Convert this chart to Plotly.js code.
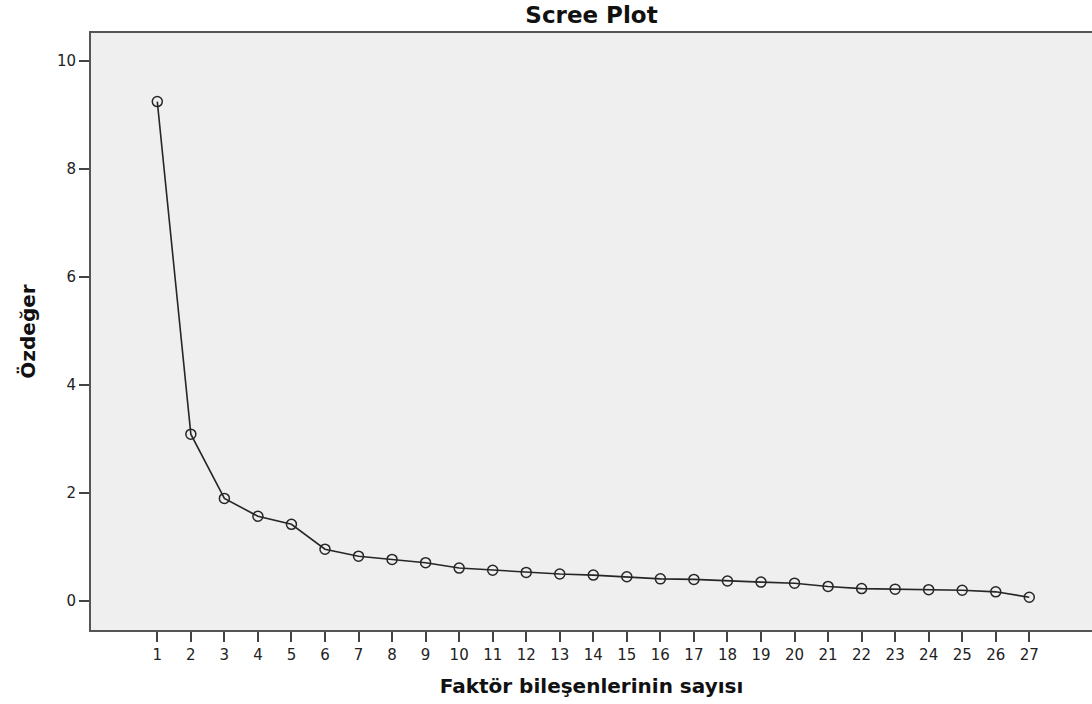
<!DOCTYPE html>
<html>
<head>
<meta charset="utf-8">
<script src="https://cdn.plot.ly/plotly-3.0.1.min.js"></script>
<style>html,body{margin:0;padding:0;background:#fff;}#chart{width:1092px;height:704px;}</style>
</head>
<body>
<div id="chart"></div>
<script>
const components = [1,2,3,4,5,6,7,8,9,10,11,12,13,14,15,16,17,18,19,20,21,22,23,24,25,26,27];
const eigenvalues = [9.25,3.09,1.90,1.57,1.42,0.96,0.83,0.77,0.71,0.61,0.57,0.53,0.50,0.48,0.45,0.41,0.40,0.37,0.35,0.33,0.27,0.23,0.22,0.21,0.20,0.17,0.07];
const yTicks = [0,2,4,6,8,10];
const chartTitle = "Scree Plot";
const xTitle = "Faktör bileşenlerinin sayısı";
const yTitle = "Özdeğer";

const font = "DejaVu Sans, Verdana, sans-serif";

const trace = {
  x: components,
  y: eigenvalues,
  type: "scatter",
  mode: "lines+markers",
  line: {color: "#262626", width: 1.6},
  marker: {symbol: "circle-open", size: 10, color: "#262626", line: {width: 1.5, color: "#262626"}},
  hoverinfo: "x+y"
};

const layout = {
  width: 1092,
  height: 704,
  margin: {l: 91, r: 0, t: 33, b: 74},
  paper_bgcolor: "#ffffff",
  plot_bgcolor: "#efefef",
  showlegend: false,
  title: {text: "<b>" + chartTitle + "</b>", x: 0.5, xref: "paper", yref: "container", yanchor: "middle",
    font: {family: font, size: 23, color: "#111"}},
  xaxis: {
    range: [-0.977, 28.87],
    tickmode: "array",
    tickvals: components,
    ticktext: components.map(String),
    ticks: "outside", ticklen: 10, tickwidth: 2, tickcolor: "#444",
    showline: true, linecolor: "#555", linewidth: 2, mirror: true,
    showgrid: false, zeroline: false,
    tickfont: {family: font, size: 15, color: "#222"},
    title: {text: "<b>" + xTitle + "</b>", font: {family: font, size: 20, color: "#111"}, standoff: 16}
  },
  yaxis: {
    range: [-0.537, 10.52],
    tickmode: "array",
    tickvals: yTicks,
    ticktext: yTicks.map(String),
    ticks: "outside", ticklen: 10, tickwidth: 2, tickcolor: "#444",
    showline: true, linecolor: "#555", linewidth: 2,
    showgrid: false, zeroline: false,
    tickfont: {family: font, size: 15, color: "#222"},
    title: {text: "<b>" + yTitle + "</b>", font: {family: font, size: 20, color: "#111"}, standoff: 16}
  }
};
layout.title.y = 1 - 15 / 704;

Plotly.newPlot("chart", [trace], layout, {displayModeBar: false, responsive: false});
</script>
</body>
</html>
